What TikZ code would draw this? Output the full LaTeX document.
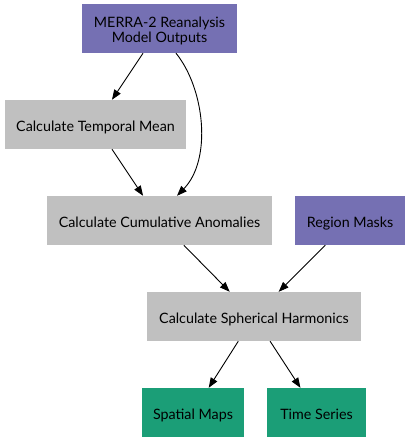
\documentclass[tikz,border=0pt]{standalone}
\usepackage{fontspec}
\setmainfont{Lato}
\usetikzlibrary{arrows.meta}
\definecolor{inputc}{HTML}{7570B3}
\definecolor{stepc}{HTML}{C0C0C0}
\definecolor{outc}{HTML}{1B9E77}
\begin{document}
\begin{tikzpicture}[x=1pt,y=-1pt]
		\tikzstyle{every node}+=[inner sep=0pt,font=\fontsize{14.3}{15.4}\selectfont,align=center,minimum height=49pt,text height=14.4pt,text depth=0pt]
		\tikzstyle{inbox}=[fill=inputc]
		\tikzstyle{stepbox}=[fill=stepc]
		\tikzstyle{outbox}=[fill=outc]
		\tikzstyle{arr}=[black,line width=0.9pt,-{Triangle[length=10pt,width=7.5pt]}]
		\useasboundingbox (0,0) rectangle (410,443);
		\node [inbox,minimum width=155pt,text height=29pt] (merra) at (159.5,28.5) {MERRA-2 Reanalysis\\Model Outputs};
		\node [stepbox,minimum width=181pt] (tmean) at (95.5,124.5) {Calculate Temporal Mean};
		\node [stepbox,minimum width=225pt] (cumanom) at (159.5,220.5) {Calculate Cumulative Anomalies};
		\node [inbox,minimum width=110pt] (masks) at (350,220.5) {Region Masks};
		\node [stepbox,minimum width=214pt] (sphharm) at (254,316.5) {Calculate Spherical Harmonics};
		\node [outbox,minimum width=102pt] (maps) at (193,412.5) {Spatial Maps};
		\node [outbox,minimum width=99pt] (tseries) at (316.5,412.5) {Time Series};
		\draw [arr] (merra) -- (tmean);
		\draw [arr] ([xshift=16.5pt]merra.south) .. controls +(29,36) and +(35,-36) .. ([xshift=17.5pt]cumanom.north);
		\draw [arr] (tmean) -- (cumanom);
		\draw [arr] (cumanom) -- (sphharm);
		\draw [arr] (masks) -- (sphharm);
		\draw [arr] (sphharm) -- (maps);
		\draw [arr] (sphharm) -- (tseries);
\end{tikzpicture}
\end{document}
